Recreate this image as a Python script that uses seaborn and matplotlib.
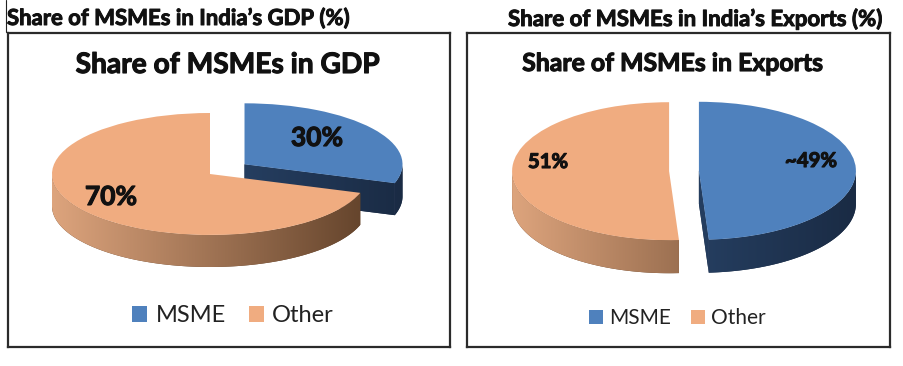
import numpy as np
import matplotlib
matplotlib.use("Agg")
import matplotlib.pyplot as plt
import seaborn as sns
from matplotlib.colors import LinearSegmentedColormap
from matplotlib.patches import Polygon
from matplotlib.lines import Line2D
import matplotlib.patheffects as pe

sns.set_theme(style="white")
plt.rcParams['font.family'] = ['Lato', 'DejaVu Sans']

# ---------------- data ----------------
categories = ["MSME", "Other"]
gdp_share = [30, 70]
gdp_labels = ["30%", "70%"]
exports_share = [49, 51]
exports_labels = ["~49%", "51%"]
panel_titles = ["Share of MSMEs in India\u2019s GDP (%)",
                "Share of MSMEs in India\u2019s Exports (%)"]
chart_titles = ["Share of MSMEs in GDP", "Share of MSMEs in Exports"]

# ---------------- styles ----------------
top_colors = ["#4F81BD", "#F0AC80"]
side_light = ["#30517C", "#DDA47D"]
side_dark = ["#1A2B44", "#63432B"]

W, H = 904, 366
fig = plt.figure(figsize=(W / 100, H / 100), dpi=100)
renderer = fig.canvas.get_renderer()


def fig_rect(x0, y0, x1, y1):
    return [x0 / W, 1 - y1 / H, (x1 - x0) / W, (y1 - y0) / H]


def fit(text, target_w):
    w = text.get_window_extent(renderer).width
    text.set_fontsize(text.get_fontsize() * target_w / w)


def fitted_size(s, target_w, base=12, weight="normal"):
    t = fig.text(0, 0, s, fontsize=base, fontweight=weight)
    w = t.get_window_extent(renderer).width
    t.remove()
    return base * target_w / w


def bold_fx(color="#111111", lw=0.7):
    return [pe.withStroke(linewidth=lw, foreground=color)]


panels = [
    dict(values=gdp_share, labels=gdp_labels, box=(8, 33, 450, 347),
         c=(210, 174), rx=158, ry=61, depth=32, explode=[0.27, 0.0],
         label_pos=[(317, 138), (111, 197)], label_w=[52, 52], label_fs=17,
         title=chart_titles[0], title_pos=(228, 73), title_w=304,
         leg_pos=(233, 316), leg_text_w=70, leg_sq=15, leg_pad=8, leg_col=23),
    dict(values=exports_share, labels=exports_labels, box=(467, 33, 890, 347),
         c=(684, 171), rx=157, ry=69, depth=33, explode=[0.095, 0.095],
         label_pos=[(811, 161), (548, 162)], label_w=[52, 40], label_fs=12,
         title=chart_titles[1], title_pos=(672, 71), title_w=301,
         leg_pos=(677, 318), leg_text_w=62, leg_sq=14, leg_pad=6, leg_col=20),
]


def side_polys(wedge, d):
    cx, cy = wedge.center
    r = wedge.r
    t1, t2 = wedge.theta1, wedge.theta2
    polys = []
    a = np.radians(np.linspace(t1, t2, 600))
    front = np.sin(a) < 0
    idx = np.where(front)[0]
    if idx.size:
        splits = np.where(np.diff(idx) > 1)[0] + 1
        for run in np.split(idx, splits):
            aa = a[run]
            xs = cx + r * np.cos(aa)
            ys = cy + r * np.sin(aa)
            pts = np.concatenate([np.column_stack([xs, ys]),
                                  np.column_stack([xs[::-1], ys[::-1] - d])])
            polys.append(pts)
    for ang, visible in ((t1, np.cos(np.radians(t1)) > 1e-6),
                         (t2, np.cos(np.radians(t2)) < -1e-6)):
        if visible:
            rxp = cx + r * np.cos(np.radians(ang))
            ryp = cy + r * np.sin(np.radians(ang))
            polys.append(np.array([[cx, cy], [rxp, ryp], [rxp, ryp - d], [cx, cy - d]]))
    return polys


for i, p in enumerate(panels):
    bx0, by0, bx1, by1 = p["box"]
    ax = fig.add_axes(fig_rect(bx0, by0, bx1, by1))
    cx, cy = p["c"]
    rx, ry = p["rx"], p["ry"]
    d = p["depth"] / ry

    wedges, _ = ax.pie(p["values"], colors=top_colors, startangle=90,
                       counterclock=False, explode=p["explode"],
                       wedgeprops=dict(linewidth=0, edgecolor="none"))

    for k, w in enumerate(wedges):
        z = 0.3 + 0.1 * k
        cmap = LinearSegmentedColormap.from_list("s", [side_light[k], side_dark[k]])
        wcx = w.center[0]
        for pts in side_polys(w, d):
            poly = Polygon(pts, closed=True, facecolor=side_dark[k],
                           edgecolor="none", zorder=z)
            ax.add_patch(poly)
            grad = np.linspace(0, 1, 256).reshape(1, -1)
            im = ax.imshow(grad, cmap=cmap, aspect="auto",
                           extent=(wcx - 1.0, wcx + 1.0, -2, 2),
                           zorder=z + 0.01, interpolation="bilinear")
            im.set_clip_path(poly)
        w.set_zorder(2)

    ax.set_aspect("auto")
    ax.set_xlim((bx0 - cx) / rx, (bx1 - cx) / rx)
    ax.set_ylim((cy - by1) / ry, (cy - by0) / ry)
    ax.set_xticks([])
    ax.set_yticks([])
    ax.set_frame_on(True)
    for s in ax.spines.values():
        s.set_visible(True)
        s.set_color("#2b2b2b")
        s.set_linewidth(1.6)
        s.set_zorder(10)

    def to_axfrac(px, py):
        return (px - bx0) / (bx1 - bx0), (by1 - py) / (by1 - by0)

    for lab, (px, py), tw in zip(p["labels"], p["label_pos"], p["label_w"]):
        t = ax.text((px - cx) / rx, (cy - py) / ry, lab, ha="center", va="center",
                    fontsize=p["label_fs"], fontweight="bold", color="#111111",
                    zorder=5, path_effects=bold_fx(lw=0.8))
        fit(t, tw)

    tx, ty = to_axfrac(*p["title_pos"])
    t = ax.text(tx, ty, p["title"], transform=ax.transAxes, ha="center",
                va="baseline", fontsize=17, fontweight="bold", color="#111111",
                path_effects=bold_fx(lw=0.8))
    fit(t, p["title_w"])

    fs = fitted_size("MSME", p["leg_text_w"])
    px_per_pt = 100 / 72
    fs_px = fs * px_per_pt
    lx, ly = to_axfrac(*p["leg_pos"])
    leg = ax.legend(wedges, categories, loc="center", bbox_to_anchor=(lx, ly),
                    ncol=2, frameon=False, fontsize=fs,
                    handlelength=p["leg_sq"] / fs_px,
                    handleheight=p["leg_sq"] / fs_px,
                    handletextpad=p["leg_pad"] / fs_px,
                    columnspacing=p["leg_col"] / fs_px,
                    borderpad=0, borderaxespad=0)
    for txt in leg.get_texts():
        txt.set_color("#222222")

t1 = fig.text(7 / W, 1 - 25 / H, panel_titles[0], ha="left", va="baseline",
              fontsize=15, fontweight="bold", color="#111111",
              path_effects=bold_fx(lw=0.7))
fit(t1, 343)
t2 = fig.text(508 / W, 1 - 26 / H, panel_titles[1], ha="left", va="baseline",
              fontsize=15, fontweight="bold", color="#111111",
              path_effects=bold_fx(lw=0.7))
fit(t2, 375)

fig.add_artist(Line2D([6.5 / W, 6.5 / W], [1, 1 - 32 / H],
                      transform=fig.transFigure, color="#222222", linewidth=0.8))

fig.savefig("out.png", dpi=100, facecolor="white")
